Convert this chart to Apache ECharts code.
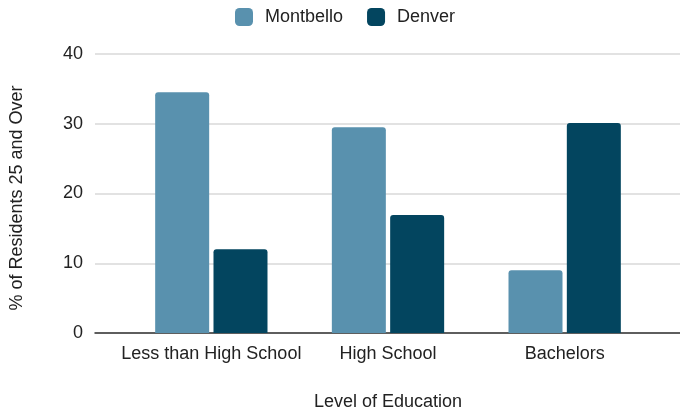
<!DOCTYPE html>
<html>
<head>
<meta charset="utf-8">
<script src="https://cdn.jsdelivr.net/npm/echarts@6/dist/echarts.min.js"></script>
<style>
  html, body { margin: 0; padding: 0; background: #fff; }
  #chart { width: 680px; height: 413px; }
</style>
</head>
<body>
<div id="chart"></div>
<script>
// chart data
const categories = ["Less than High School", "High School", "Bachelors"];
const montbello = [34.5, 29.5, 9.0];
const denver = [12.0, 16.9, 30.1];
const yTicks = [0, 10, 20, 30, 40];

const font = "'Liberation Sans', Arial, sans-serif";
const textColor = "#222";

let chart = echarts.init(document.getElementById("chart"));
let option = {
  animation: false,
  textStyle: { fontFamily: font },
  legend: {
    data: ["Montbello", "Denver"],
    top: 8,
    left: 235,
    padding: 0,
    itemWidth: 18,
    itemHeight: 18,
    itemGap: 24,
    icon: "roundRect",
    textStyle: { fontSize: 18, color: textColor, fontFamily: font, padding: [0, 0, 0, 7] }
  },
  grid: [
    // background grid: gridlines and y labels run wider than the bars
    { left: 95, right: 0, top: 54, bottom: 80, outerBoundsMode: "none" },
    // bars
    { left: 123, right: 27, top: 54, bottom: 80, outerBoundsMode: "none" }
  ],
  xAxis: [
    {
      gridIndex: 0,
      type: "category",
      data: categories,
      axisLine: { show: true, lineStyle: { color: "#333", width: 1.5 } },
      axisTick: { show: false },
      axisLabel: { show: false },
      splitLine: { show: false }
    },
    {
      gridIndex: 1,
      type: "category",
      data: categories,
      axisLine: { show: false },
      axisTick: { show: false },
      axisLabel: { interval: 0, fontSize: 18, color: textColor, margin: 12, fontFamily: font },
      name: "Level of Education",
      nameLocation: "middle",
      nameGap: 60,
      nameTextStyle: { fontSize: 18, color: textColor, fontFamily: font }
    }
  ],
  yAxis: [
    {
      gridIndex: 0,
      type: "value",
      min: 0,
      max: yTicks[yTicks.length - 1],
      interval: 10,
      axisLine: { show: false },
      axisTick: { show: false },
      axisLabel: { fontSize: 18, color: textColor, margin: 12, fontFamily: font },
      splitLine: { lineStyle: { color: "#d9d9d9", width: 1.5 } },
      name: "% of Residents 25 and Over",
      nameLocation: "middle",
      nameGap: 69,
      nameTextStyle: { fontSize: 18, color: textColor, fontFamily: font, padding: [0, 9, 0, 0] }
    },
    {
      gridIndex: 1,
      type: "value",
      min: 0,
      max: yTicks[yTicks.length - 1],
      show: false
    }
  ],
  series: [
    {
      name: "Montbello",
      type: "bar",
      xAxisIndex: 1,
      yAxisIndex: 1,
      barWidth: 54,
      barGap: "8%",
      itemStyle: { color: "#5991ae", borderRadius: [3, 3, 0, 0] },
      data: montbello
    },
    {
      name: "Denver",
      type: "bar",
      xAxisIndex: 1,
      yAxisIndex: 1,
      barWidth: 54,
      barGap: "8%",
      itemStyle: { color: "#03455f", borderRadius: [3, 3, 0, 0] },
      data: denver
    }
  ]
};
chart.setOption(option);
</script>
</body>
</html>
